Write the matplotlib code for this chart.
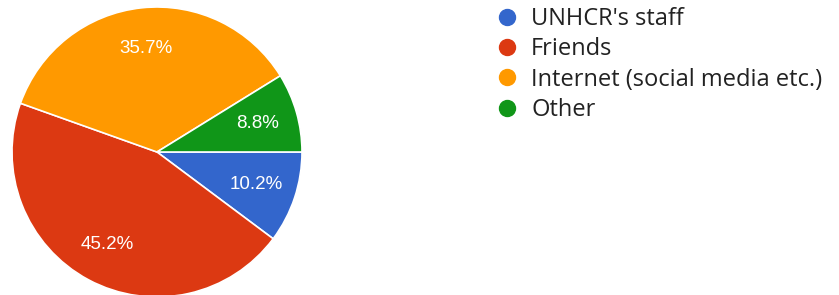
import matplotlib
matplotlib.use("Agg")
import matplotlib.pyplot as plt
from matplotlib.lines import Line2D

categories = ["UNHCR's staff", "Friends", "Internet (social media etc.)", "Other"]
values = [10.2, 45.2, 35.7, 8.8]
colors = ["#3366CC", "#DC3912", "#FF9900", "#109618"]

W, H = 839, 295
fig = plt.figure(figsize=(W / 100, H / 100), dpi=100)
fig.patch.set_facecolor("white")

cx, cy, r = 157, 152, 145
ax = fig.add_axes([(cx - r) / W, (H - cy - r) / H, 2 * r / W, 2 * r / H])
wedges, texts, autotexts = ax.pie(
    values, colors=colors, startangle=0, counterclock=False,
    autopct="%.1f%%", pctdistance=0.72, radius=1.0,
    wedgeprops=dict(edgecolor="white", linewidth=1.2),
    textprops=dict(color="white", fontsize=13.5, family=["Liberation Sans", "DejaVu Sans"]),
)
ax.set_xlim(-1, 1)
ax.set_ylim(-1, 1)
ax.set_aspect("equal")
ax.axis("off")

handles = [Line2D([0], [0], marker="o", linestyle="none", markersize=11.5,
                  markerfacecolor=c, markeredgecolor=c) for c in colors]
leg = fig.legend(handles, categories, loc="upper left",
                 bbox_to_anchor=(497 / W, 1 - 7 / H), frameon=False,
                 prop=dict(family=["Open Sans", "DejaVu Sans"], size=17),
                 handlelength=0.85, handletextpad=0.6, labelspacing=0.27,
                 borderpad=0, borderaxespad=0)
for t in leg.get_texts():
    t.set_color("#222222")

fig.savefig("out.png", dpi=100, facecolor="white")
